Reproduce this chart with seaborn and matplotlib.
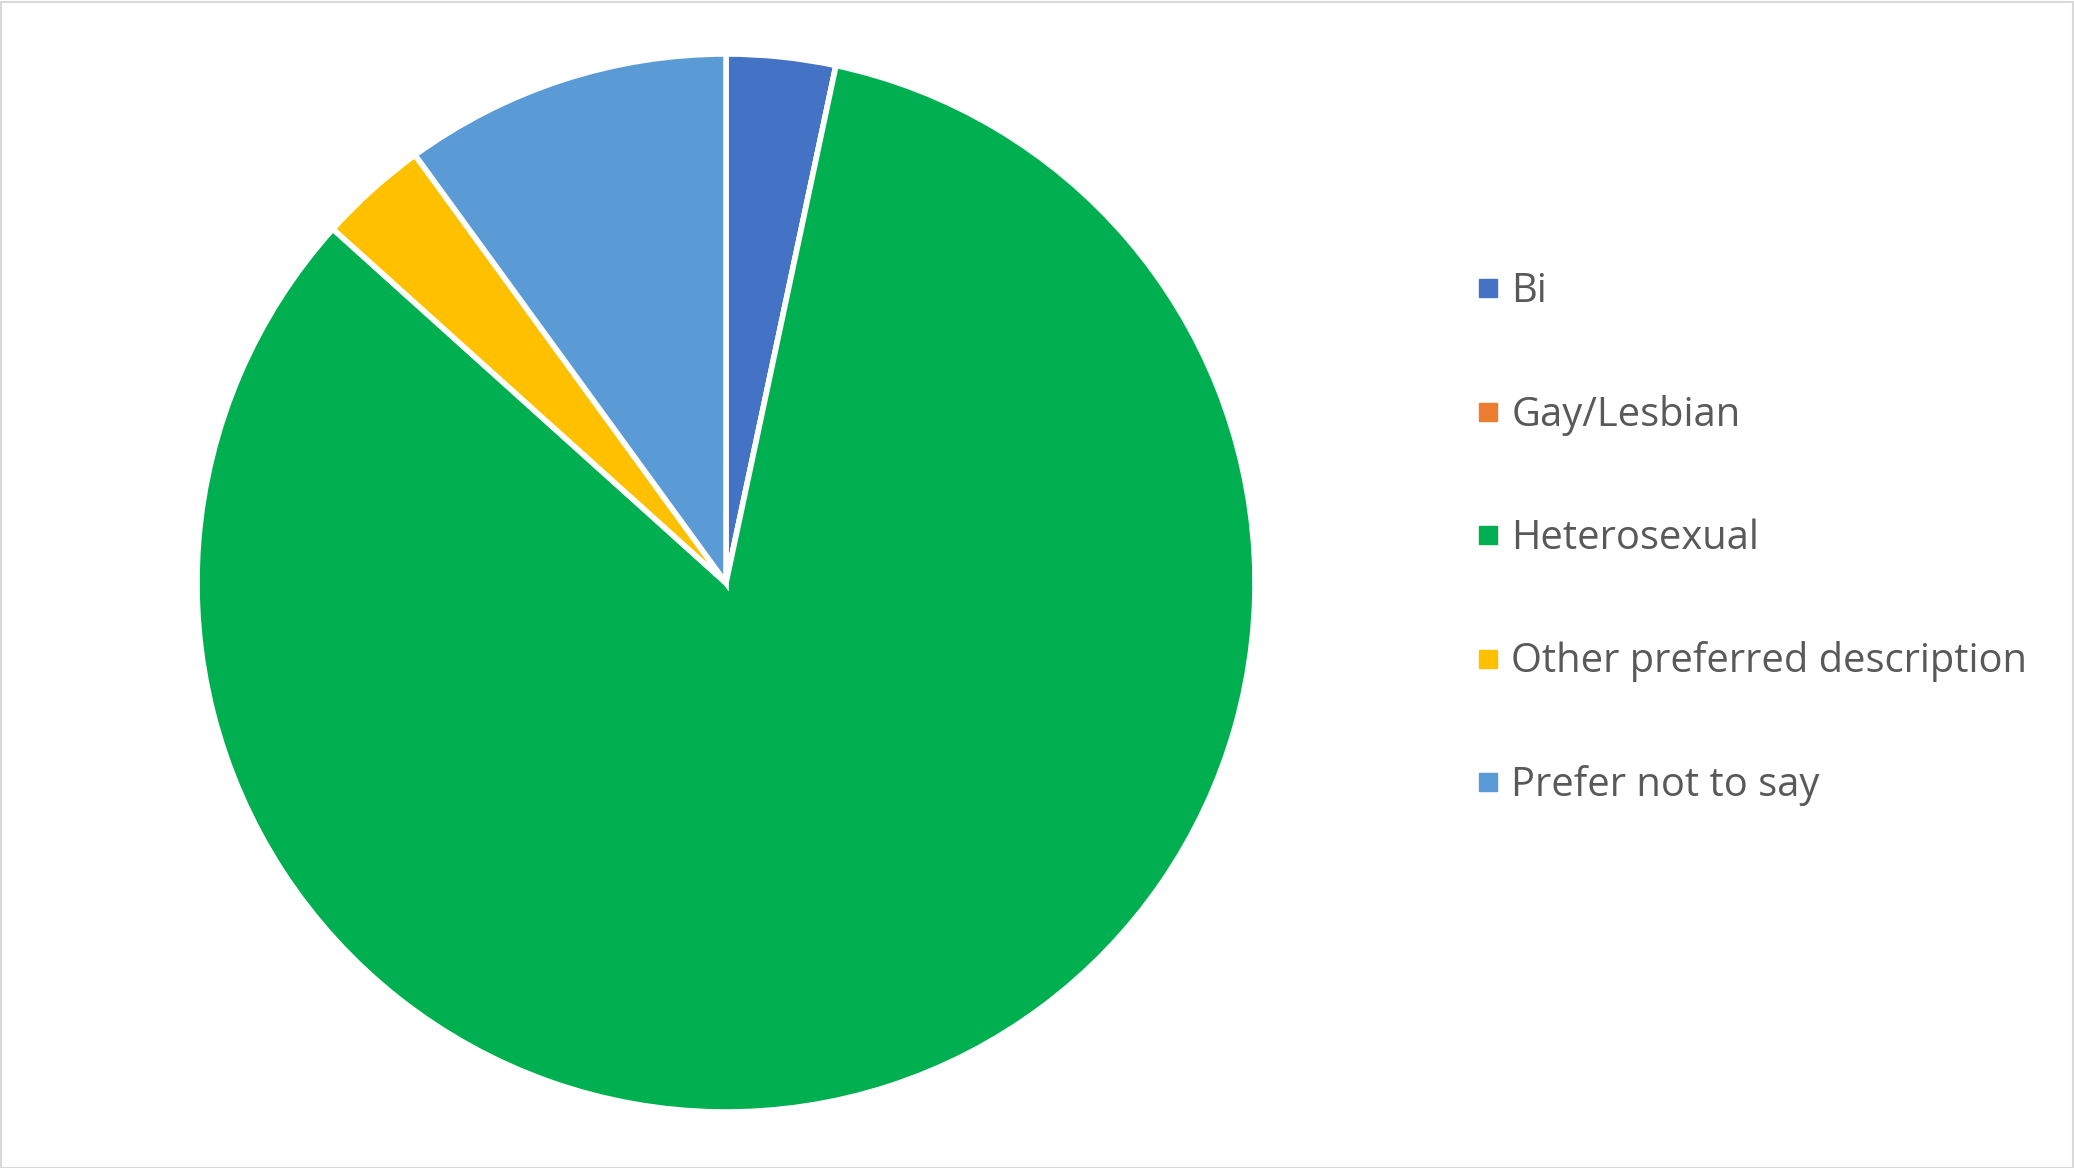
import matplotlib
matplotlib.use("Agg")
import matplotlib.pyplot as plt
import seaborn as sns
from matplotlib.patches import Rectangle
from matplotlib.lines import Line2D

categories = ["Bi", "Gay/Lesbian", "Heterosexual", "Other preferred description", "Prefer not to say"]
counts = [1, 0, 25, 1, 3]
colors = ["#4472C4", "#ED7D31", "#00B050", "#FFC000", "#5B9BD5"]

sns.set_theme(style="white")
plt.rcParams['font.family'] = ['Open Sans', 'DejaVu Sans']

W, H = 2074, 1168
fig = plt.figure(figsize=(W / 100, H / 100), dpi=100)
cx, cy, r = 726, 583, 529
ax = fig.add_axes([(cx - r) / W, (H - cy - r) / H, 2 * r / W, 2 * r / H])
ax.pie(counts, colors=sns.color_palette(colors), startangle=90, counterclock=False,
       wedgeprops=dict(edgecolor="white", linewidth=4), radius=1)
ax.set_xlim(-1, 1)
ax.set_ylim(-1, 1)
ax.set_aspect("equal")
ax.axis("off")

handles = [Line2D([0], [0], marker="s", linestyle="none", markersize=13,
                  markerfacecolor=c, markeredgecolor=c) for c in colors]
leg = fig.legend(handles, categories, loc="upper left",
                 bbox_to_anchor=(1457 / W, 1 - 252 / H), frameon=False,
                 fontsize=28.7, labelcolor="#595959", handlelength=0.55,
                 handletextpad=0.31, labelspacing=2.07, borderpad=0)

fig.patches.append(Rectangle((0.5 / W, 0.5 / H), 1 - 2 / W, 1 - 2 / H,
                             transform=fig.transFigure, fill=False,
                             edgecolor="#D9D9D9", linewidth=1.5))
fig.savefig("out.png", dpi=100, facecolor="white")
